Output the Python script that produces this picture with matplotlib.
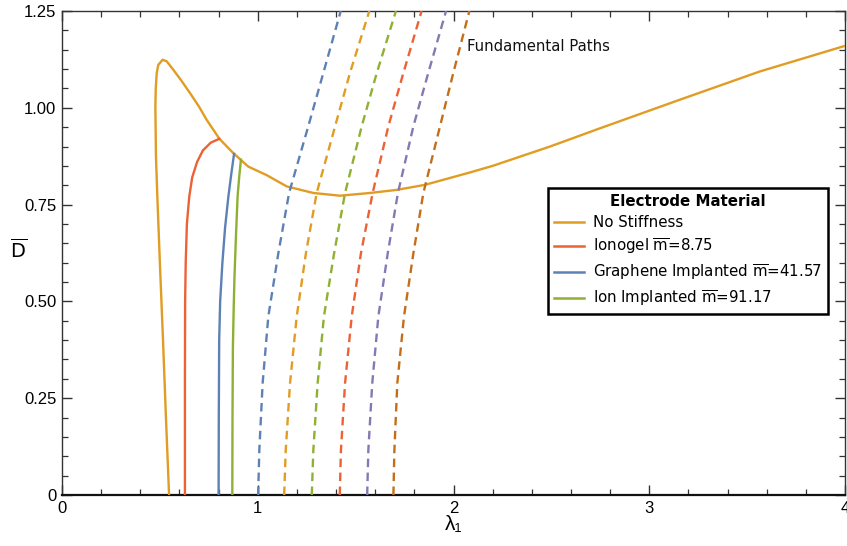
import matplotlib
matplotlib.use("Agg")
import matplotlib.pyplot as plt
from matplotlib.ticker import MultipleLocator, FixedLocator

plt.rcParams['mathtext.fontset'] = 'dejavusans'

# ---- data ----
no_stiff_lam = [0.547, 0.531, 0.516, 0.500, 0.487, 0.480, 0.477, 0.479, 0.484, 0.492, 0.514,
                0.535, 0.569, 0.610, 0.654, 0.700, 0.739, 0.804, 0.875, 0.952, 1.046, 1.148,
                1.284, 1.420, 1.573, 1.710, 1.854, 2.084, 2.200, 2.493, 2.748, 3.157, 3.566, 4.0]
no_stiff_D = [0.0, 0.2, 0.4, 0.6, 0.771, 0.874, 1.003, 1.05, 1.090, 1.111, 1.124,
              1.120, 1.098, 1.070, 1.038, 1.003, 0.969, 0.920, 0.883, 0.848, 0.826, 0.797,
              0.780, 0.773, 0.780, 0.788, 0.801, 0.833, 0.850, 0.900, 0.947, 1.021, 1.094, 1.160]

ionogel_lam = [0.628, 0.628, 0.629, 0.632, 0.638, 0.650, 0.665, 0.690, 0.720, 0.760, 0.804]
ionogel_D = [0.0, 0.3, 0.5, 0.6, 0.700, 0.770, 0.820, 0.860, 0.890, 0.910, 0.920]

graphene_lam = [0.800, 0.801, 0.803, 0.808, 0.819, 0.833, 0.850, 0.865, 0.879]
graphene_D = [0.0, 0.2, 0.4, 0.5, 0.597, 0.690, 0.771, 0.830, 0.881]

ion_lam = [0.870, 0.871, 0.873, 0.877, 0.881, 0.888, 0.897, 0.905, 0.914]
ion_D = [0.0, 0.2, 0.381, 0.480, 0.561, 0.660, 0.771, 0.820, 0.866]

fund_D = [0.0, 0.116, 0.289, 0.461, 0.624, 0.780, 0.952, 1.090, 1.250]
fund_lam = [
    [1.002, 1.008, 1.025, 1.054, 1.105, 1.160, 1.258, 1.335, 1.424],
    [1.135, 1.143, 1.165, 1.199, 1.246, 1.301, 1.395, 1.471, 1.570],
    [1.276, 1.284, 1.306, 1.338, 1.390, 1.446, 1.531, 1.608, 1.706],
    [1.419, 1.425, 1.446, 1.480, 1.527, 1.587, 1.667, 1.744, 1.837],
    [1.559, 1.565, 1.585, 1.616, 1.664, 1.716, 1.795, 1.871, 1.962],
    [1.693, 1.698, 1.713, 1.747, 1.795, 1.846, 1.931, 1.999, 2.081],
]

legend_labels = ["No Stiffness",
                 "Ionogel $\\overline{\\mathrm{m}}$=8.75",
                 "Graphene Implanted $\\overline{\\mathrm{m}}$=41.57",
                 "Ion Implanted $\\overline{\\mathrm{m}}$=91.17"]

x_ticks = [0, 1, 2, 3, 4]
x_ticklabels = ["0", "1", "2", "3", "4"]
y_ticks = [0, 0.25, 0.5, 0.75, 1.0, 1.25]
y_ticklabels = ["0", "0.25", "0.50", "0.75", "1.00", "1.25"]

# Mathematica default palette
C_BLUE, C_ORANGE, C_GREEN, C_RED, C_PURPLE, C_DORANGE = (
    "#5E81B5", "#E19C24", "#8FB032", "#EB6235", "#8778B3", "#C56E1A")
fund_colors = [C_BLUE, C_ORANGE, C_GREEN, C_RED, C_PURPLE, C_DORANGE]

fig = plt.figure(figsize=(8.47, 5.46), dpi=100)
ax = fig.add_axes([62/847, 51/546, 783/847, 484/546])

lw = 1.7
l0, = ax.plot(no_stiff_lam, no_stiff_D, color=C_ORANGE, lw=lw, solid_joinstyle='round', zorder=3)
l1, = ax.plot(ionogel_lam, ionogel_D, color=C_RED, lw=lw, solid_joinstyle='round', zorder=3)
l2, = ax.plot(graphene_lam, graphene_D, color=C_BLUE, lw=lw, solid_joinstyle='round', zorder=3)
l3, = ax.plot(ion_lam, ion_D, color=C_GREEN, lw=lw, solid_joinstyle='round', zorder=3)

for lam, c in zip(fund_lam, fund_colors):
    ax.plot(lam, fund_D, color=c, lw=lw, linestyle=(0, (3.6, 2.3)), zorder=4)

ax.text(2.069, 1.158, "Fundamental Paths", fontsize=10.7, family="DejaVu Sans",
        ha="left", va="center", color="#111111")

ax.set_xlim(0, 4)
ax.set_ylim(0, 1.25)

ax.xaxis.set_major_locator(FixedLocator(x_ticks))
ax.set_xticklabels(x_ticklabels)
ax.yaxis.set_major_locator(FixedLocator(y_ticks))
ax.set_yticklabels(y_ticklabels)
ax.xaxis.set_minor_locator(MultipleLocator(0.2))
ax.yaxis.set_minor_locator(MultipleLocator(0.05))

frame_c = "#333333"
ax.tick_params(which='both', direction='in', top=True, right=True, colors=frame_c,
               labelcolor='black', labelsize=12, pad=4)
ax.tick_params(which='major', length=7, width=1)
ax.tick_params(which='minor', length=4.5, width=0.9)
for lab in ax.get_xticklabels() + ax.get_yticklabels():
    lab.set_family("Liberation Sans")

for s in ax.spines.values():
    s.set_color(frame_c)
    s.set_linewidth(1.0)
ax.spines['bottom'].set_linewidth(1.6)
ax.spines['bottom'].set_color("#111111")

ax.set_xlabel("λ₁", fontsize=15, family=["Liberation Sans", "DejaVu Sans"])
ax.xaxis.set_label_coords(0.5, -0.06)
ax.xaxis.label.set_va("center")
ax.set_ylabel("$\\overline{\\mathrm{D}}$", fontsize=14, rotation=0)
ax.yaxis.set_label_coords(-0.056, 0.506)
ax.yaxis.label.set_va("center")
ax.yaxis.label.set_ha("center")

leg = ax.legend([l0, l1, l2, l3], legend_labels, title="Electrode Material",
                loc="upper left", bbox_to_anchor=(0.6207, 0.634), fontsize=10.8,
                title_fontproperties={'weight': 'bold', 'size': 10.8, 'family': 'DejaVu Sans'},
                frameon=True, fancybox=False, framealpha=1, edgecolor="black",
                borderpad=0.4, handlelength=2.0, handletextpad=0.6, labelspacing=0.42,
                borderaxespad=0)
leg.get_frame().set_linewidth(1.8)
for t in leg.get_texts():
    t.set_family("DejaVu Sans")
for h in leg.get_lines():
    h.set_linewidth(1.8)

fig.savefig("out.png", dpi=100)
